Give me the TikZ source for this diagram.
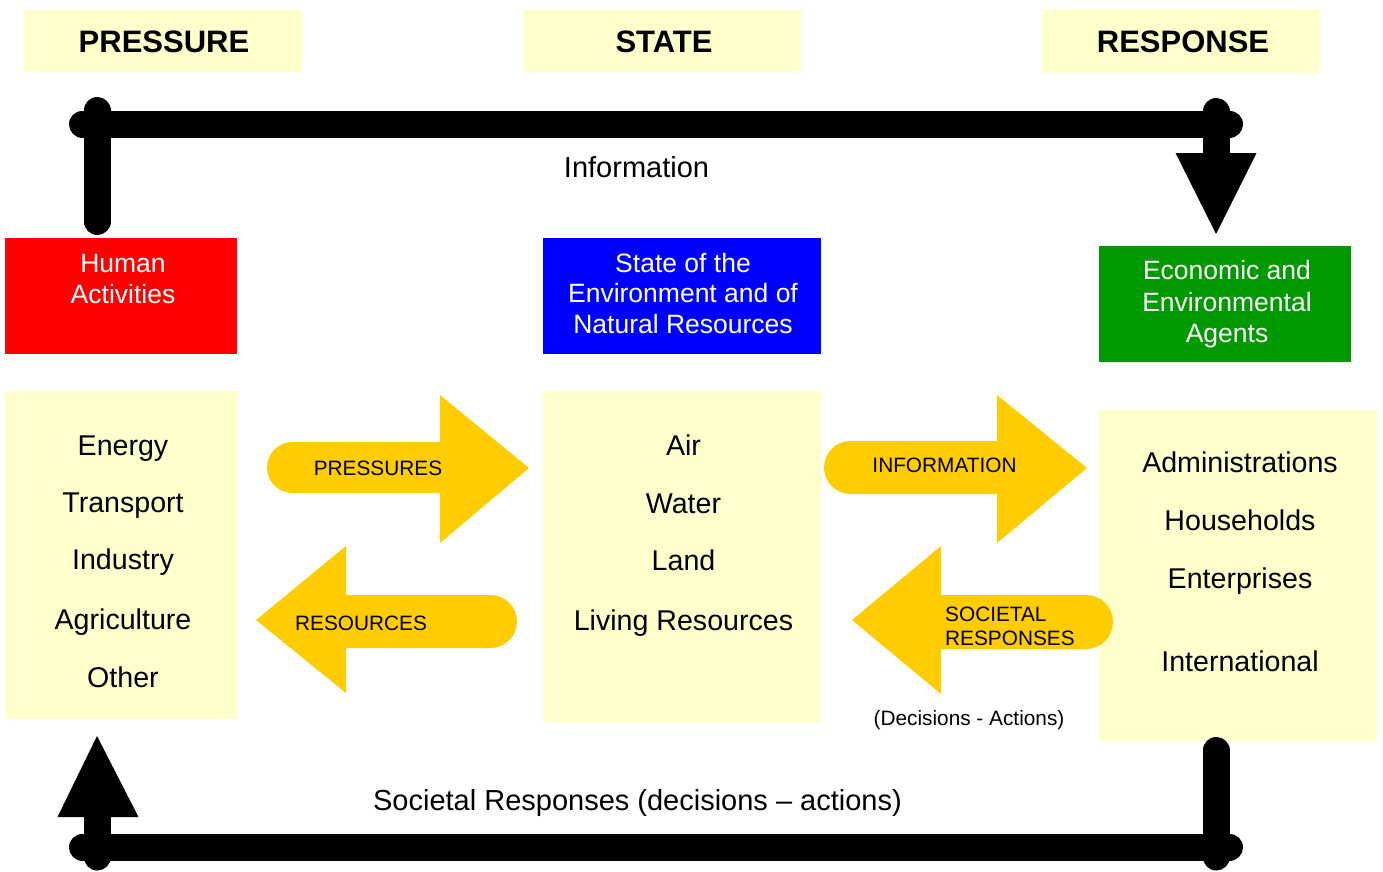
\documentclass[tikz,border=0pt]{standalone}
\usepackage{fontspec}
\setmainfont{Liberation Sans}
\definecolor{paleY}{HTML}{FFFFCC}
\definecolor{arrY}{HTML}{FFCC00}
\definecolor{boxRed}{HTML}{FF0000}
\definecolor{boxBlue}{HTML}{0000FF}
\definecolor{boxGreen}{HTML}{009900}
\tikzset{
  panel/.style={fill=paleY, draw=none},
  hdr/.style={font=\fontsize{31}{36}\selectfont\bfseries, anchor=base, inner sep=0pt},
  wtxt/.style={font=\fontsize{26.5}{31}\selectfont, text=white, anchor=base, inner sep=0pt},
  item/.style={font=\fontsize{28.6}{34}\selectfont, anchor=base, inner sep=0pt},
  alab/.style={font=\fontsize{20.8}{24}\selectfont, anchor=base, inner sep=0pt},
  flowlab/.style={font=\fontsize{29}{34}\selectfont, anchor=base, inner sep=0pt},
  feed/.style={line width=27pt, line cap=round, black},
  blockarrow/.style={fill=arrY, draw=none},
}
\begin{document}
\begin{tikzpicture}[x=1pt,y=-1pt]
\useasboundingbox (0,0) rectangle (1383,871);

% header panels
\fill[panel] (24,10) rectangle (302,72);
\fill[panel] (524,10) rectangle (801,72);
\fill[panel] (1042,9) rectangle (1320,73);
\node[hdr] (hP) at (164,52) {PRESSURE};
\node[hdr] (hS) at (664,52) {STATE};
\node[hdr] (hR) at (1183,52) {RESPONSE};

% coloured boxes
\fill[boxRed] (5,238) rectangle (237,354);
\fill[boxBlue] (543,238) rectangle (821,354);
\fill[boxGreen] (1099,246) rectangle (1351,362);
\node[wtxt] (ha1) at (123,272) {Human};
\node[wtxt] (ha2) at (123,303) {Activities};
\node[wtxt] (se1) at (683,272) {State of the};
\node[wtxt] (se2) at (683,302) {Environment and of};
\node[wtxt] (se3) at (683,333) {Natural Resources};
\node[wtxt] (ea1) at (1227,279) {Economic and};
\node[wtxt] (ea2) at (1227,311) {Environmental};
\node[wtxt] (ea3) at (1227,342) {Agents};

% list panels
\fill[panel] (5,391) rectangle (237,719);
\fill[panel] (543,391) rectangle (821,722);
\fill[panel] (1099,410) rectangle (1377,741);
\node[item] (l1) at (123,455) {Energy};
\node[item] (l2) at (123,512) {Transport};
\node[item] (l3) at (123,569) {Industry};
\node[item] (l4) at (123,629) {Agriculture};
\node[item] (l5) at (123,687) {Other};
\node[item] (m1) at (683.5,455) {Air};
\node[item] (m2) at (683.5,513) {Water};
\node[item] (m3) at (683.5,570) {Land};
\node[item] (m4) at (683.5,630) {Living Resources};
\node[item] (r1) at (1240,472) {Administrations};
\node[item] (r2) at (1240,530) {Households};
\node[item] (r3) at (1240,588) {Enterprises};
\node[item] (r4) at (1240,671) {International};

% yellow block arrows
\fill[blockarrow, rounded corners=25.5pt] (267,442) rectangle (490,493);
\fill[blockarrow] (440,395) -- (529,468) -- (440,543) -- cycle;
\fill[blockarrow, rounded corners=26.5pt] (824,441) rectangle (1040,494);
\fill[blockarrow] (997,395) -- (1087,468) -- (997,543) -- cycle;
\fill[blockarrow, rounded corners=26.5pt] (300,595) rectangle (517,648);
\fill[blockarrow] (346,546) -- (256,620) -- (346,693) -- cycle;
\fill[blockarrow, rounded corners=27pt] (895,595) rectangle (1113,649);
\fill[blockarrow] (941,546) -- (852,620) -- (941,694) -- cycle;
\node[alab] (aP) at (378,475) {PRESSURES};
\node[alab] (aI) at (944.5,472) {INFORMATION};
\node[alab] (aR) at (361,630) {RESOURCES};
\node[alab, anchor=base west] (aS1) at (945,621) {SOCIETAL};
\node[alab, anchor=base west] (aS2) at (945,645) {RESPONSES};
\node[font=\fontsize{20.8}{24}\selectfont, anchor=base, inner sep=0pt] (dA) at (969,725) {(Decisions - Actions)};

% feedback loops
\coordinate (tL) at (82.5,124);
\coordinate (tR) at (1229.5,124);
\coordinate (tLv1) at (97,110.5);
\coordinate (tLv2) at (97,221.5);
\coordinate (tRv1) at (1216,111.5);
\coordinate (tRv2) at (1216,160);
\coordinate (tip1) at (1216,234);
\draw[feed] (tL) -- (tR);
\draw[feed] (tLv1) -- (tLv2);
\draw[feed] (tRv1) -- (tRv2);
\fill (1175.5,153) -- (1256.5,153) -- (tip1) -- cycle;

\coordinate (bL) at (82.5,847);
\coordinate (bR) at (1229.5,847);
\coordinate (bLv1) at (97,810);
\coordinate (bLv2) at (97,857);
\coordinate (bRv1) at (1216,750.5);
\coordinate (bRv2) at (1216,857);
\coordinate (tip2) at (97,736);
\draw[feed] (bL) -- (bR);
\draw[feed] (bLv1) -- (bLv2);
\draw[feed] (bRv1) -- (bRv2);
\fill (57.5,817) -- (138.5,817) -- (tip2) -- cycle;

\node[flowlab] (infoT) at (636.5,177) {Information};
\node[flowlab] (socT) at (637.5,810) {Societal Responses (decisions – actions)};
\end{tikzpicture}
\end{document}
